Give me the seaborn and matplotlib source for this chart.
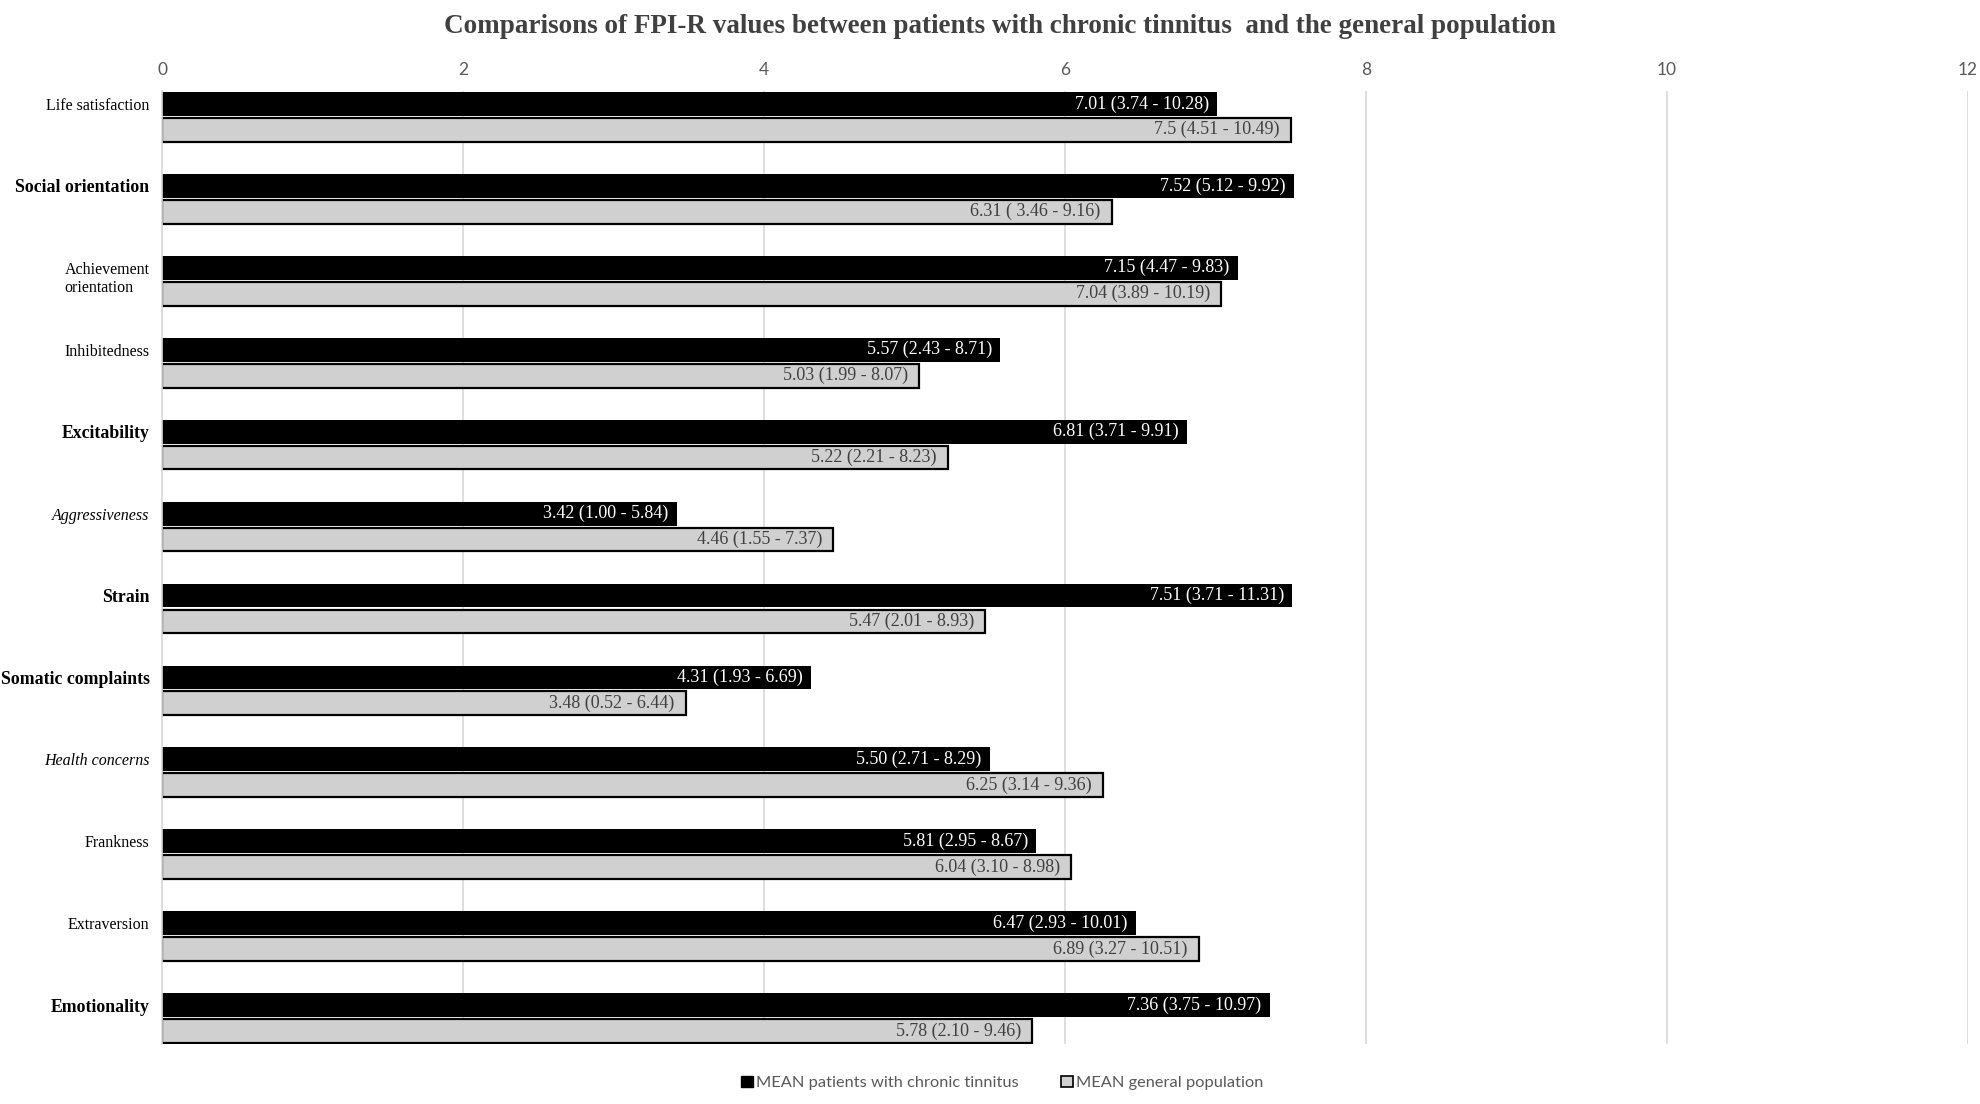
import matplotlib
matplotlib.use("Agg")
import matplotlib.pyplot as plt
import matplotlib.patches as mpatches
from matplotlib.transforms import ScaledTranslation
import seaborn as sns
import pandas as pd

# ---------------- data ----------------
categories = ["Life satisfaction", "Social orientation", "Achievement\norientation",
              "Inhibitedness", "Excitability", "Aggressiveness", "Strain",
              "Somatic complaints", "Health concerns", "Frankness", "Extraversion",
              "Emotionality"]
cat_weights = ["normal", "bold", "normal", "normal", "bold", "normal", "bold",
               "bold", "normal", "normal", "normal", "bold"]
cat_styles = ["normal", "normal", "normal", "normal", "normal", "italic", "normal",
              "normal", "italic", "normal", "normal", "normal"]

series_names = ["MEAN patients with chronic tinnitus", "MEAN general population"]
tinnitus_mean = [7.01, 7.52, 7.15, 5.57, 6.81, 3.42, 7.51, 4.31, 5.50, 5.81, 6.47, 7.36]
tinnitus_labels = ["7.01 (3.74 - 10.28)", "7.52 (5.12 - 9.92)", "7.15 (4.47 - 9.83)",
                   "5.57 (2.43 - 8.71)", "6.81 (3.71 - 9.91)", "3.42 (1.00 - 5.84)",
                   "7.51 (3.71 - 11.31)", "4.31 (1.93 - 6.69)", "5.50 (2.71 - 8.29)",
                   "5.81 (2.95 - 8.67)", "6.47 (2.93 - 10.01)", "7.36 (3.75 - 10.97)"]
general_mean = [7.5, 6.31, 7.04, 5.03, 5.22, 4.46, 5.47, 3.48, 6.25, 6.04, 6.89, 5.78]
general_labels = ["7.5 (4.51 - 10.49)", "6.31 ( 3.46 - 9.16)", "7.04 (3.89 - 10.19)",
                  "5.03 (1.99 - 8.07)", "5.22 (2.21 - 8.23)", "4.46 (1.55 - 7.37)",
                  "5.47 (2.01 - 8.93)", "3.48 (0.52 - 6.44)", "6.25 (3.14 - 9.36)",
                  "6.04 (3.10 - 8.98)", "6.89 (3.27 - 10.51)", "5.78 (2.10 - 9.46)"]
x_ticks = [0, 2, 4, 6, 8, 10, 12]
title = "Comparisons of FPI-R values between patients with chronic tinnitus  and the general population"

df = pd.DataFrame({
    "category": categories * 2,
    "group": [series_names[0]] * len(categories) + [series_names[1]] * len(categories),
    "value": tinnitus_mean + general_mean,
})

# ---------------- plot ----------------
sns.set_theme(style="white")
plt.rcParams["font.family"] = ["Liberation Serif", "DejaVu Serif"]

fig = plt.figure(figsize=(19.81, 11.04), dpi=100)
ax = fig.add_axes([0.0818, 0.0543, 0.9116, 0.8633])

width = 0.632
sns.barplot(data=df, x="value", y="category", hue="group", order=categories,
            hue_order=series_names, palette={series_names[0]: "#000000",
                                             series_names[1]: "#d0d0d0"},
            width=width, gap=0.08, orient="h", ax=ax, legend=False,
            linewidth=0, saturation=1)

for p in ax.containers[1]:
    p.set_edgecolor("#000000")
    p.set_linewidth(1.6)

ax.set_xlim(0, 12)
ax.set_ylim(len(categories) - 1 + width / 2, -width / 2)
ax.set_xticks(x_ticks)
ax.xaxis.tick_top()
ax.tick_params(axis="x", length=0, pad=9, labelsize=12.5, labelcolor="#595959")
for t in ax.get_xticklabels():
    t.set_fontfamily(["Lato", "DejaVu Sans"])

ax.set_yticks([i - width / 4 for i in range(len(categories))])
ax.set_yticklabels(categories)
ax.tick_params(axis="y", length=0, pad=9, labelsize=11.5, labelcolor="#000000")
for t, w, s in zip(ax.get_yticklabels(), cat_weights, cat_styles):
    t.set_fontweight(w)
    t.set_fontstyle(s)
    if w == "bold":
        t.set_fontsize(12.8)
    if "\n" in t.get_text():
        t.set_multialignment("left")
        t.set_transform(t.get_transform() + ScaledTranslation(0, -0.08, fig.dpi_scale_trans))

ax.set_xlabel("")
ax.set_ylabel("")
ax.grid(axis="x", color="#d9d9d9", linewidth=1.2)
ax.grid(axis="y", visible=False)
for side in ["top", "right", "bottom"]:
    ax.spines[side].set_visible(False)
ax.spines["left"].set_color("#d9d9d9")
ax.spines["left"].set_linewidth(1.2)
ax.set_axisbelow(True)

lab0 = ax.bar_label(ax.containers[0], labels=tinnitus_labels, padding=-6,
                    color="white", fontsize=13)
lab1 = ax.bar_label(ax.containers[1], labels=general_labels, padding=-8,
                    color="#404040", fontsize=13)
for t in list(lab0) + list(lab1):
    t.set_ha("right")

fig.suptitle(title, x=0.505, y=0.976, fontsize=19.5, fontweight="bold", color="#404040",
             va="center")

handles = [mpatches.Patch(facecolor="#000000", edgecolor="#000000"),
           mpatches.Patch(facecolor="#d0d0d0", edgecolor="#000000", linewidth=1.2)]
leg = fig.legend(handles, series_names, loc="center", bbox_to_anchor=(0.506, 0.019),
                 ncol=2, frameon=False, handlelength=0.7, handleheight=0.7,
                 handletextpad=0.2, columnspacing=2.6,
                 prop={"family": ["Lato", "DejaVu Sans"], "size": 11.8})
for t in leg.get_texts():
    t.set_color("#595959")

fig.savefig("out.png", dpi=100)
